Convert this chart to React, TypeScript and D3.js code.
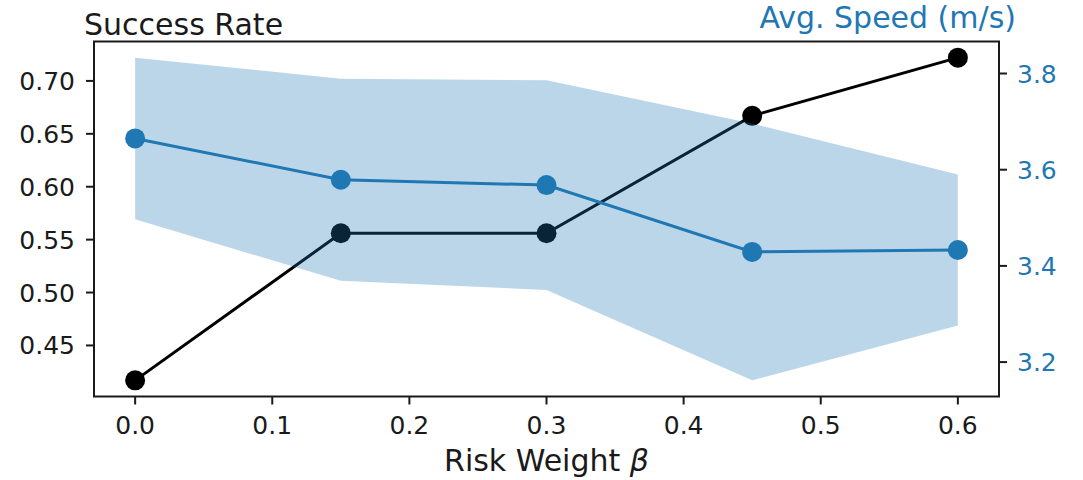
import React from "react";
import * as d3 from "d3";

// Risk weight values swept in the experiment
const betas: number[] = [0.0, 0.15, 0.3, 0.45, 0.6];
// Success rate at each beta (left axis)
const successRate: number[] = [0.417, 0.556, 0.556, 0.667, 0.722];
// Average speed mean and standard deviation at each beta (right axis)
const speedMean: number[] = [3.665, 3.579, 3.568, 3.429, 3.433];
const speedStd: number[] = [0.168, 0.21, 0.218, 0.267, 0.157];

const xTicks: number[] = [0.0, 0.1, 0.2, 0.3, 0.4, 0.5, 0.6];
const leftTicks: number[] = [0.45, 0.5, 0.55, 0.6, 0.65, 0.7];
const rightTicks: number[] = [3.2, 3.4, 3.6, 3.8];

const W = 1083;
const H = 480;
const FONT = "DejaVu Sans, Verdana, sans-serif";
const BLUE = "#1f77b4";
const INK = "#1a1a1a";

// Pad a data extent the way matplotlib's default 5% margins do
function padded(lo: number, hi: number, frac = 0.05): [number, number] {
  const m = (hi - lo) * frac;
  return [lo - m, hi + m];
}

export default function App() {
  const plot = { left: 94, right: 999, top: 41.5, bottom: 396.5 };

  const x = d3
    .scaleLinear()
    .domain(padded(d3.min(betas)!, d3.max(betas)!))
    .range([plot.left, plot.right]);

  const yL = d3
    .scaleLinear()
    .domain(padded(d3.min(successRate)!, d3.max(successRate)!))
    .range([plot.bottom, plot.top]);

  const lower = speedMean.map((m, i) => m - speedStd[i]);
  const upper = speedMean.map((m, i) => m + speedStd[i]);
  const yR = d3
    .scaleLinear()
    .domain(padded(d3.min(lower)!, d3.max(upper)!))
    .range([plot.bottom, plot.top]);

  const successLine = d3
    .line<number>()
    .x((_, i) => x(betas[i]))
    .y((d) => yL(d))(successRate)!;

  const speedLine = d3
    .line<number>()
    .x((_, i) => x(betas[i]))
    .y((d) => yR(d))(speedMean)!;

  const band = d3
    .area<number>()
    .x((_, i) => x(betas[i]))
    .y0((_, i) => yR(lower[i]))
    .y1((_, i) => yR(upper[i]))(speedMean)!;

  const tickLen = 8;

  return (
    <svg
      width={W}
      height={H}
      viewBox={`0 0 ${W} ${H}`}
      style={{ position: "absolute", left: 0, top: 0, background: "#fff" }}
      fontFamily={FONT}
    >
      <rect x={0} y={0} width={W} height={H} fill="#fff" />

      {/* success rate series (primary axis, drawn first) */}
      <path d={successLine} fill="none" stroke="#000" strokeWidth={3} />
      {successRate.map((v, i) => (
        <circle key={`s${i}`} cx={x(betas[i])} cy={yL(v)} r={10} fill="#000" />
      ))}

      {/* speed spread band and mean line (twin axis, on top) */}
      <path d={band} fill={BLUE} fillOpacity={0.3} stroke="none" />
      <path d={speedLine} fill="none" stroke={BLUE} strokeWidth={3} />
      {speedMean.map((v, i) => (
        <circle key={`v${i}`} cx={x(betas[i])} cy={yR(v)} r={10} fill={BLUE} />
      ))}

      {/* frame */}
      <rect
        x={plot.left}
        y={plot.top}
        width={plot.right - plot.left}
        height={plot.bottom - plot.top}
        fill="none"
        stroke={INK}
        strokeWidth={2}
      />

      {/* bottom axis */}
      {xTicks.map((t) => (
        <g key={`xt${t}`}>
          <line
            x1={x(t)}
            x2={x(t)}
            y1={plot.bottom}
            y2={plot.bottom + tickLen}
            stroke={INK}
            strokeWidth={2}
          />
          <text
            x={x(t)}
            y={434}
            textAnchor="middle"
            fontSize={25}
            fill={INK}
          >
            {t.toFixed(1)}
          </text>
        </g>
      ))}
      <text
        x={(plot.left + plot.right) / 2}
        y={471}
        textAnchor="middle"
        fontSize={30}
        fill={INK}
      >
        Risk Weight <tspan fontStyle="italic">β</tspan>
      </text>

      {/* left axis */}
      {leftTicks.map((t) => (
        <g key={`yl${t}`}>
          <line
            x1={plot.left - tickLen}
            x2={plot.left}
            y1={yL(t)}
            y2={yL(t)}
            stroke={INK}
            strokeWidth={2}
          />
          <text
            x={plot.left - tickLen - 11}
            y={yL(t)}
            dy="0.36em"
            textAnchor="end"
            fontSize={25}
            fill={INK}
          >
            {t.toFixed(2)}
          </text>
        </g>
      ))}
      <text x={84} y={35} fontSize={30} fill={INK}>
        Success Rate
      </text>

      {/* right axis */}
      {rightTicks.map((t) => (
        <g key={`yr${t}`}>
          <line
            x1={plot.right}
            x2={plot.right + tickLen}
            y1={yR(t)}
            y2={yR(t)}
            stroke={INK}
            strokeWidth={2}
          />
          <text
            x={plot.right + tickLen + 10}
            y={yR(t)}
            dy="0.36em"
            textAnchor="start"
            fontSize={25}
            fill={BLUE}
          >
            {t.toFixed(1)}
          </text>
        </g>
      ))}
      <text x={1016} y={28} textAnchor="end" fontSize={30} fill={BLUE}>
        Avg. Speed (m/s)
      </text>
    </svg>
  );
}
